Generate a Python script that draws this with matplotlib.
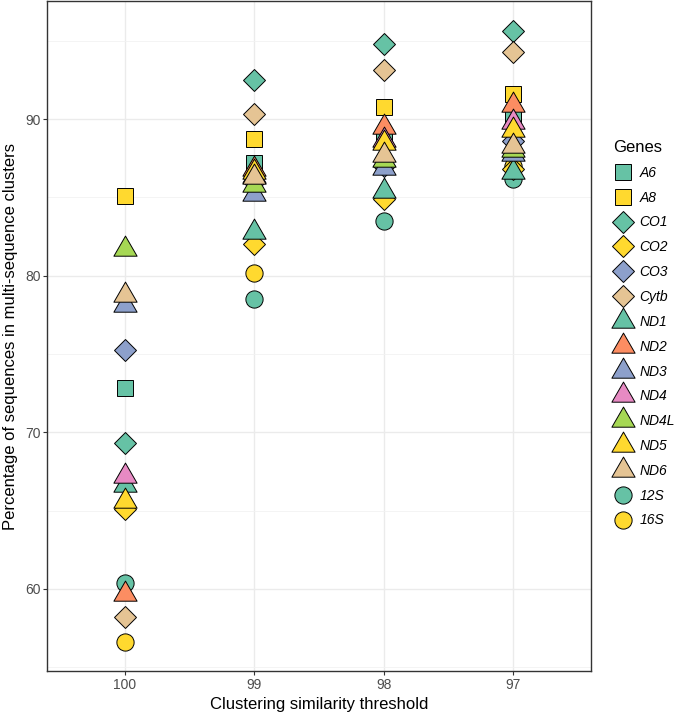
import matplotlib
matplotlib.use('Agg')
import matplotlib.pyplot as plt
from matplotlib.lines import Line2D
from matplotlib.path import Path
import numpy as np

# cluster thresholds (x categories)
thresholds = ['100', '99', '98', '97']

genes = ['A6', 'A8', 'CO1', 'CO2', 'CO3', 'Cytb', 'ND1', 'ND2', 'ND3',
         'ND4', 'ND4L', 'ND5', 'ND6', '12S', '16S']

# percentage of sequences in multi-sequence clusters, per gene
A6 = [72.8, 87.2, 88.7, 90.2]
A8 = [85.1, 88.75, 90.8, 91.6]
CO1 = [69.3, 92.5, 94.8, 95.65]
CO2 = [65.1, 82.0, 84.9, 86.8]
CO3 = [75.25, 86.0, 87.0, 88.6]
Cytb = [58.2, 90.3, 93.15, 94.3]
ND1 = [66.6, 82.8, 85.4, 86.6]
ND2 = [59.7, 86.8, 89.5, 90.9]
ND3 = [78.1, 85.2, 86.9, 87.8]
ND4 = [67.2, 86.4, 88.7, 89.8]
ND4L = [81.7, 85.8, 87.4, 88.0]
ND5 = [65.6, 86.6, 88.5, 89.3]
ND6 = [78.8, 86.3, 87.7, 88.3]
S12 = [60.4, 78.5, 83.5, 86.2]
S16 = [56.6, 80.2, 85.0, 87.0]

values = [A6, A8, CO1, CO2, CO3, Cytb, ND1, ND2, ND3, ND4, ND4L, ND5, ND6, S12, S16]

teal = '#66C2A5'
orange = '#FC8D62'
blue = '#8DA0CB'
pink = '#E78AC3'
green = '#A6D854'
yellow = '#FFD92F'
tan = '#E5C494'
colors = [teal, yellow, teal, yellow, blue, tan, teal, orange, blue,
          pink, green, yellow, tan, teal, yellow]

# equilateral triangle, centred like R's pch 24
tri = Path([(0, 1), (-0.866, -0.5), (0.866, -0.5), (0, 1)],
           [Path.MOVETO, Path.LINETO, Path.LINETO, Path.CLOSEPOLY])
kinds = ['s', 's', 'D', 'D', 'D', 'D', tri, tri, tri, tri, tri, tri, tri, 'o', 'o']
sizes = {'s': 11.0, 'D': 11.0, 'o': 12.4}

# rRNA genes come first in the data rows, so they sit underneath
draw_order = [13, 14] + list(range(13))


def msize(m):
    if m is tri:
        return 19.3
    return sizes[m]


plt.rcParams['font.family'] = ['Liberation Sans', 'DejaVu Sans']

fig = plt.figure(figsize=(6.77, 7.14), dpi=100)
ax = fig.add_axes([47 / 677, 43 / 714, 544 / 677, 670 / 714])

x = np.arange(1, len(thresholds) + 1)
for k, i in enumerate(draw_order):
    m = kinds[i]
    ax.plot(x, values[i], linestyle='none', marker=m, markersize=msize(m),
            markerfacecolor=colors[i], markeredgecolor='black',
            markeredgewidth=0.7, zorder=3 + k * 0.01)

handles = []
for i, g in enumerate(genes):
    m = kinds[i]
    handles.append(Line2D([], [], linestyle='none', marker=m, markersize=msize(m),
                          markerfacecolor=colors[i], markeredgecolor='black',
                          markeredgewidth=0.7))

ax.set_xlim(0.4, 4.6)
ax.set_ylim(54.75, 97.55)
ax.set_xticks(x)
ax.set_xticklabels(thresholds)
ax.set_yticks([60, 70, 80, 90])
ax.set_yticks([55, 65, 75, 85, 95], minor=True)
ax.grid(True, which='major', color='#EBEBEB', linewidth=1.0, zorder=0)
ax.grid(True, which='minor', axis='y', color='#F2F2F2', linewidth=0.6, zorder=0)
ax.set_axisbelow(True)
ax.tick_params(which='major', length=2.7, width=0.8, color='#333333',
               labelsize=10, labelcolor='#4D4D4D', pad=2)
ax.tick_params(which='minor', length=0)
for sp in ax.spines.values():
    sp.set_color('#333333')
    sp.set_linewidth(1.0)

ax.set_xlabel('Clustering similarity threshold', fontsize=12, labelpad=4)
ax.set_ylabel('Percentage of sequences in multi-sequence clusters', fontsize=12, labelpad=5)

leg = fig.legend(handles, genes, title='Genes', loc='upper left',
                 bbox_to_anchor=(613 / 677, 1 - 140 / 714), frameon=False,
                 prop={'style': 'italic', 'size': 10}, title_fontsize=12,
                 handlelength=1.4, handletextpad=0.5, labelspacing=0.78,
                 borderpad=0, borderaxespad=0, alignment='left')

fig.savefig('out.png', dpi=100)
